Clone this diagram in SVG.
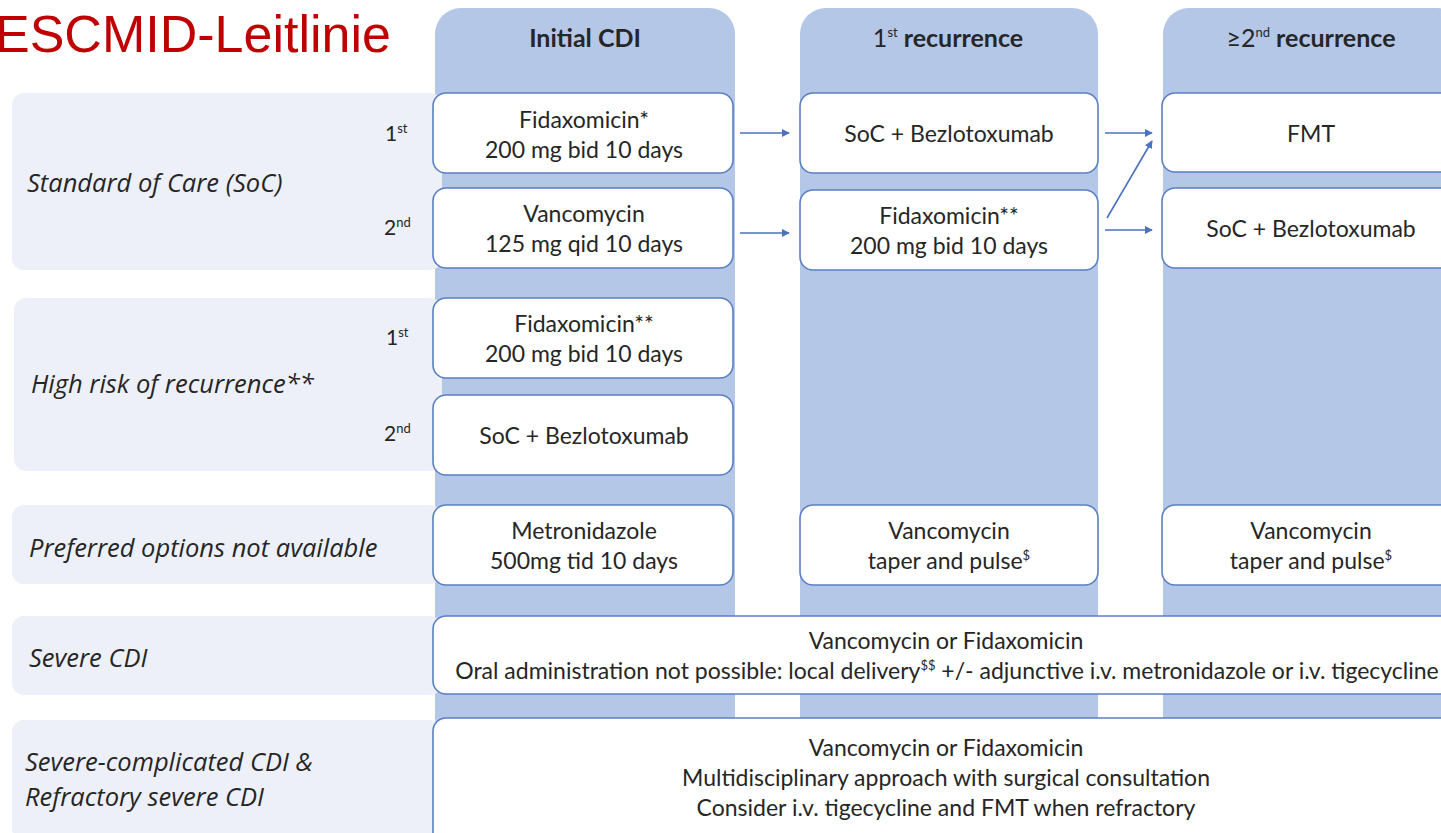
<svg xmlns="http://www.w3.org/2000/svg" width="1441" height="833" viewBox="0 0 1441 833">
<style>
.col{fill:#b4c7e7}
.panel{fill:#edf0f8}
.box{fill:#fff;stroke:#5b7fc4;stroke-width:1.6}
.t{font-family:Lato,"Open Sans",sans-serif;font-size:23px;fill:#262626;text-anchor:middle}
.h{font-family:Lato,"Open Sans",sans-serif;font-size:25px;font-weight:bold;fill:#262626;text-anchor:middle}
.lab{font-family:"Open Sans",Lato,sans-serif;font-size:25.5px;font-style:italic;fill:#262626}
.ord{font-family:Lato,"Open Sans",sans-serif;font-size:21px;fill:#262626}
.sup{font-size:13px}
.arr{stroke:#4a72c0;stroke-width:1.6;fill:none;marker-end:url(#ah)}
</style>
<defs>
<marker id="ah" viewBox="0 0 10 10" refX="9" refY="5" markerWidth="8" markerHeight="8" orient="auto" markerUnits="userSpaceOnUse"><path d="M0,0 L10,5 L0,10 z" fill="#4a72c0"/></marker>
</defs>
<rect width="1441" height="833" fill="#fff"/>
<text x="-5" y="52" font-family="Liberation Sans,Arial,sans-serif" font-size="52" fill="#c00000">ESCMID-Leitlinie</text>

<g id="columns">
<rect class="col" x="435" y="8" width="300" height="850" rx="26"/>
<rect class="col" x="800" y="8" width="298" height="850" rx="26"/>
<rect class="col" x="1163" y="8" width="300" height="850" rx="26"/>
<text class="h" x="585" y="47">Initial CDI</text>
<text class="h" x="948" y="47"><tspan font-weight="normal">1</tspan><tspan class="sup" font-weight="normal" dy="-10">st</tspan><tspan dy="10"> recurrence</tspan></text>
<text class="h" x="1311" y="47"><tspan font-weight="normal">≥2</tspan><tspan class="sup" font-weight="normal" dy="-10">nd</tspan><tspan dy="10"> recurrence</tspan></text>
</g>

<g id="rowlabels">
<rect class="panel" x="12" y="93" width="430" height="177" rx="12"/>
<rect class="panel" x="14" y="298" width="428" height="173" rx="12"/>
<rect class="panel" x="12" y="505" width="430" height="79" rx="12"/>
<rect class="panel" x="12" y="616" width="430" height="79" rx="12"/>
<rect class="panel" x="12" y="720" width="430" height="120" rx="12"/>
<text class="lab" x="27" y="192">Standard of Care (SoC)</text>
<text class="ord" x="385" y="141">1<tspan class="sup" dy="-8">st</tspan></text>
<text class="ord" x="384" y="235">2<tspan class="sup" dy="-8">nd</tspan></text>
<text class="lab" x="31" y="393">High risk of recurrence**</text>
<text class="ord" x="386" y="345">1<tspan class="sup" dy="-8">st</tspan></text>
<text class="ord" x="384" y="441">2<tspan class="sup" dy="-8">nd</tspan></text>
<text class="lab" x="29" y="557">Preferred options not available</text>
<text class="lab" x="29" y="667">Severe CDI</text>
<text class="lab" x="25" y="771">Severe-complicated CDI &amp;</text>
<text class="lab" x="25" y="806">Refractory severe CDI</text>
</g>

<g id="n_soc1">
<rect class="box" x="433" y="93" width="300" height="80" rx="13"/>
<text class="t" x="584" y="128">Fidaxomicin*</text>
<text class="t" x="584" y="158">200 mg bid 10 days</text>
</g>
<g id="n_soc2">
<rect class="box" x="433" y="188" width="300" height="80" rx="13"/>
<text class="t" x="584" y="222">Vancomycin</text>
<text class="t" x="584" y="252">125 mg qid 10 days</text>
</g>
<g id="n_hr1">
<rect class="box" x="433" y="298" width="300" height="80" rx="13"/>
<text class="t" x="584" y="332">Fidaxomicin**</text>
<text class="t" x="584" y="362">200 mg bid 10 days</text>
</g>
<g id="n_hr2">
<rect class="box" x="433" y="395" width="300" height="80" rx="13"/>
<text class="t" x="584" y="444">SoC + Bezlotoxumab</text>
</g>
<g id="n_pref1">
<rect class="box" x="433" y="505" width="300" height="80" rx="13"/>
<text class="t" x="584" y="539">Metronidazole</text>
<text class="t" x="584" y="569">500mg tid 10 days</text>
</g>
<g id="n_r1a">
<rect class="box" x="800" y="93" width="298" height="80" rx="13"/>
<text class="t" x="949" y="142">SoC + Bezlotoxumab</text>
</g>
<g id="n_r1b">
<rect class="box" x="800" y="190" width="298" height="80" rx="13"/>
<text class="t" x="949" y="224">Fidaxomicin**</text>
<text class="t" x="949" y="254">200 mg bid 10 days</text>
</g>
<g id="n_pref2">
<rect class="box" x="800" y="505" width="298" height="80" rx="13"/>
<text class="t" x="949" y="539">Vancomycin</text>
<text class="t" x="949" y="569">taper and pulse<tspan class="sup" dy="-9">$</tspan></text>
</g>
<g id="n_r2a">
<rect class="box" x="1162" y="93" width="300" height="79" rx="13"/>
<text class="t" x="1311" y="142">FMT</text>
</g>
<g id="n_r2b">
<rect class="box" x="1162" y="188" width="300" height="80" rx="13"/>
<text class="t" x="1311" y="237">SoC + Bezlotoxumab</text>
</g>
<g id="n_pref3">
<rect class="box" x="1162" y="505" width="300" height="80" rx="13"/>
<text class="t" x="1311" y="539">Vancomycin</text>
<text class="t" x="1311" y="569">taper and pulse<tspan class="sup" dy="-9">$</tspan></text>
</g>
<g id="n_severe">
<rect class="box" x="433" y="616" width="1030" height="78" rx="13"/>
<text class="t" x="946" y="649">Vancomycin or Fidaxomicin</text>
<text class="t" x="947" y="679">Oral administration not possible: local delivery<tspan class="sup" dy="-9">$$</tspan><tspan dy="9"> +/- adjunctive i.v. metronidazole or i.v. tigecycline</tspan></text>
</g>
<g id="n_complicated">
<rect class="box" x="433" y="718" width="1030" height="130" rx="13"/>
<text class="t" x="946" y="756">Vancomycin or Fidaxomicin</text>
<text class="t" x="946" y="786">Multidisciplinary approach with surgical consultation</text>
<text class="t" x="946" y="816">Consider i.v. tigecycline and FMT when refractory</text>
</g>

<g id="connectors">
<line class="arr" x1="740" y1="133" x2="789" y2="133"/>
<line class="arr" x1="740" y1="233" x2="789" y2="233"/>
<line class="arr" x1="1105" y1="133" x2="1152" y2="133"/>
<line class="arr" x1="1105" y1="230" x2="1152" y2="230"/>
<line class="arr" x1="1107" y1="218" x2="1152" y2="141"/>
</g>
</svg>
